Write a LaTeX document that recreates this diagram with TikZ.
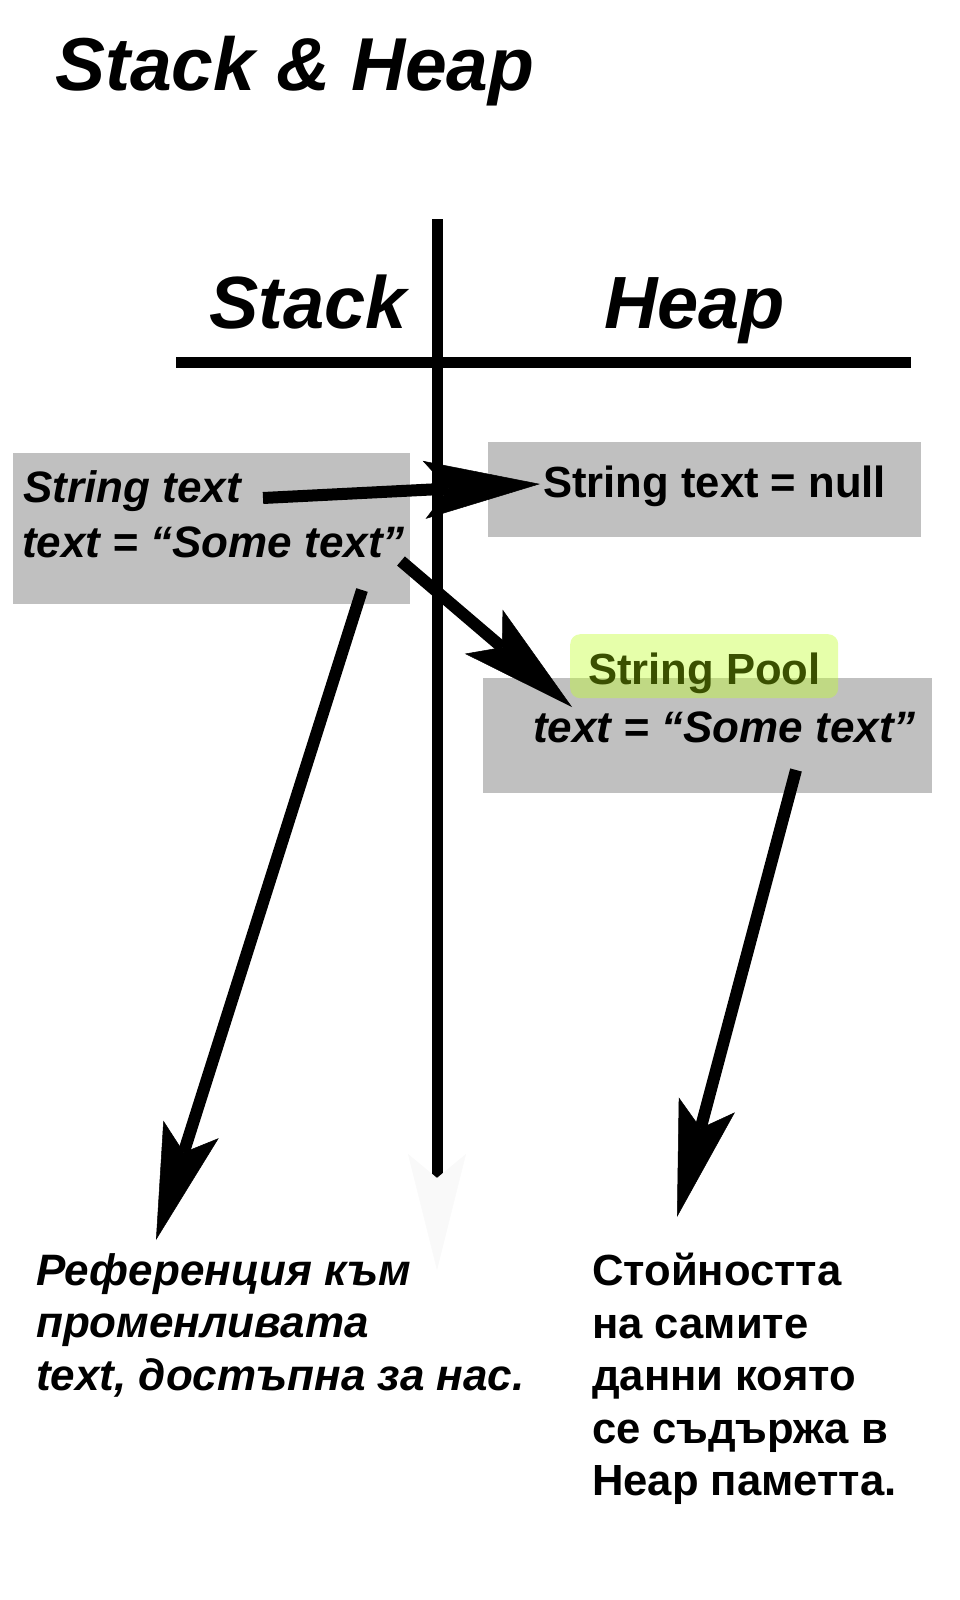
\documentclass[tikz,border=0pt]{standalone}
\usepackage{fontspec}
\setmainfont{Liberation Sans}
\usetikzlibrary{arrows.meta}
\definecolor{boxgray}{RGB}{192,192,192}
\definecolor{poolgreen}{RGB}{192,255,42}
\definecolor{pooltext}{RGB}{58,80,0}
\definecolor{ghost}{RGB}{249,249,249}
\begin{document}
\begin{tikzpicture}[x=1pt,y=-1pt,
  txt/.style={inner sep=0pt, anchor=base west, font=\bfseries\fontsize{43.6}{53}\selectfont},
  txti/.style={inner sep=0pt, anchor=base west, font=\bfseries\itshape\fontsize{44}{53}\selectfont},
  head/.style={inner sep=0pt, anchor=base west, font=\bfseries\itshape\fontsize{74}{80}\selectfont},
  graybox/.style={fill=boxgray, draw=none, inner sep=0pt, anchor=north west},
  poolbox/.style={fill=poolgreen, fill opacity=0.4, draw=none, rounded corners=10pt, inner sep=0pt, anchor=north west},
  rule/.style={line width=11pt},
  arr/.style={line width=12pt, -{Stealth[length=116pt, width=58pt, inset=24pt, line width=0.5pt]}},
  ghostarr/.style={line width=11pt, -{Stealth[length=116pt, width=58pt, inset=24pt, line width=0.5pt, color=ghost]}}
]
\useasboundingbox (0,0) rectangle (960,1600);

% title
\node[inner sep=0pt, anchor=base west, font=\bfseries\itshape\fontsize{75}{80}\selectfont] (title) at (55,91) {Stack \& Heap};

% boxes
\node[graybox, minimum width=397pt, minimum height=151pt] (lbox) at (13,453) {};
\node[graybox, minimum width=433pt, minimum height=95pt] (nullbox) at (488,442) {};
\node[graybox, minimum width=449pt, minimum height=115pt] (poolval) at (483,678) {};
\node[poolbox, minimum width=268pt, minimum height=64pt] (pool) at (570,634) {};

% headers and axes
\node[head] (stack) at (209,328) {Stack};
\node[head] (heap) at (604,328) {Heap};
\coordinate (hl) at (176,362);
\coordinate (hr) at (911,362);
\coordinate (vt) at (437,219);
\coordinate (vb) at (437,1270);
\draw[rule] (hl) -- (hr);
\draw[ghostarr] (vt) -- (vb);

% box texts
\node[txti] (s1) at (23,502) {String text};
\node[txti] (s2) at (22,557) {text = “Some text”};
\node[txt] (h1) at (543,497) {String text = null};
\node[txt, text=pooltext] (pooltitle) at (588,684) {String Pool};
\node[txti] (h2) at (533,742) {text = “Some text”};

% arrows
\coordinate (a1s) at (263,498);
\coordinate (a1e) at (540,484);
\coordinate (a2s) at (401,561);
\coordinate (a2e) at (572,707);
\coordinate (a3s) at (362,590);
\coordinate (a3e) at (156,1240);
\coordinate (a4s) at (796,770);
\coordinate (a4e) at (677,1217);
\draw[arr] (a1s) -- (a1e);
\draw[arr] (a2s) -- (a2e);
\draw[arr] (a3s) -- (a3e);
\draw[arr] (a4s) -- (a4e);

% bottom texts
\node[txti] (l1) at (36,1285) {Референция към};
\node[txti] (l2) at (36,1337.5) {променливата};
\node[txti] (l3) at (36,1390) {text, достъпна за нас.};
\node[txt] (r1) at (592,1285) {Стойността};
\node[txt] (r2) at (592,1338) {на самите};
\node[txt] (r3) at (592,1390) {данни която};
\node[txt] (r4) at (592,1443) {се съдържа в};
\node[txt] (r5) at (592,1495) {Heap паметта.};
\end{tikzpicture}
\end{document}
